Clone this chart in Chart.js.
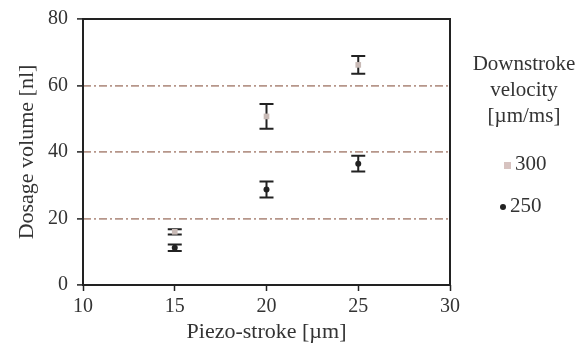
<!DOCTYPE html>
<html>
<head>
<meta charset="utf-8">
<script src="https://cdn.jsdelivr.net/npm/chart.js@4"></script>
<style>
  body { margin: 0; background: #fff; }
  #wrap { position: relative; width: 585px; height: 352px; }
  #chart { display: block; }
  #legend {
    position: absolute; left: 462px; top: 50px; width: 124px;
    font-family: 'Liberation Serif', serif; font-size: 21px; color: #333;
    text-align: center; line-height: 26px;
  }
  #legend .item { position: absolute; white-space: nowrap; }
  #legend .mk { display: inline-block; margin-right: 4px; vertical-align: middle; }
</style>
</head>
<body>
<div id="wrap">
  <canvas id="chart" width="585" height="352"></canvas>
  <div id="legend"></div>
</div>
<script>
const strokes = [15, 20, 25];
const vel300 = [16.0, 50.7, 66.2];
const vel300Err = [0.8, 3.7, 2.7];
const vel250 = [11.2, 28.7, 36.5];
const vel250Err = [1.0, 2.4, 2.4];
const xTicks = [10, 15, 20, 25, 30];
const yTicks = [0, 20, 40, 60, 80];
const legendTitle = ['Downstroke', 'velocity', '[\u00b5m/ms]'];
const seriesNames = ['300', '250'];

const textColor = '#333';
const gridColor = 'rgb(182,150,138)';

const toPoints = (ys, errs) => strokes.map((x, i) => ({ x: x, y: ys[i], err: errs[i] }));

// error bars drawn behind the markers
const errorBars = {
  id: 'errorBars',
  beforeDatasetsDraw(chart) {
    const ctx = chart.ctx;
    const xs = chart.scales.x, ys = chart.scales.y;
    ctx.save();
    ctx.strokeStyle = '#222';
    ctx.lineWidth = 2;
    chart.data.datasets.forEach(ds => {
      ds.data.forEach(p => {
        const px = xs.getPixelForValue(p.x);
        const top = ys.getPixelForValue(p.y + p.err);
        const bot = ys.getPixelForValue(p.y - p.err);
        ctx.beginPath();
        ctx.moveTo(px, top); ctx.lineTo(px, bot);
        ctx.moveTo(px - 7, top); ctx.lineTo(px + 7, top);
        ctx.moveTo(px - 7, bot); ctx.lineTo(px + 7, bot);
        ctx.stroke();
      });
    });
    ctx.restore();
  }
};

const frame = {
  id: 'frame',
  afterDraw(chart) {
    const a = chart.chartArea, ctx = chart.ctx;
    ctx.save();
    ctx.strokeStyle = '#222';
    ctx.lineWidth = 2;
    ctx.strokeRect(a.left, a.top, a.right - a.left, a.bottom - a.top);
    ctx.restore();
  }
};

const serif = 'Liberation Serif';

new Chart(document.getElementById('chart'), {
  type: 'scatter',
  data: {
    datasets: [
      {
        label: seriesNames[0],
        data: toPoints(vel300, vel300Err),
        pointStyle: 'rect',
        pointRadius: 4,
        backgroundColor: 'rgb(200,186,182)',
        borderColor: 'rgb(200,186,182)',
        borderWidth: 0
      },
      {
        label: seriesNames[1],
        data: toPoints(vel250, vel250Err),
        pointStyle: 'circle',
        pointRadius: 3,
        backgroundColor: '#222',
        borderColor: '#222',
        borderWidth: 0
      }
    ]
  },
  options: {
    responsive: false,
    animation: false,
    layout: { padding: { top: 10, right: 135, left: 0, bottom: 0 } },
    plugins: { legend: { display: false }, tooltip: { enabled: false } },
    scales: {
      x: {
        min: 10, max: 30,
        afterBuildTicks: s => { s.ticks = xTicks.map(v => ({ value: v })); },
        afterFit: s => { s.height = 67; },
        grid: { drawOnChartArea: false, tickLength: 6, tickColor: '#222', tickWidth: 1.5 },
        border: { display: false },
        ticks: { color: textColor, padding: 4, font: { family: serif, size: 20 } },
        title: {
          display: true, text: 'Piezo-stroke [\u00b5m]', color: textColor,
          font: { family: serif, size: 22 }, padding: { top: 0, bottom: 7 }
        }
      },
      y: {
        min: 0, max: 80,
        afterBuildTicks: s => { s.ticks = yTicks.map(v => ({ value: v })); },
        afterFit: s => { s.width = 83; },
        grid: {
          color: c => (c.tick && (c.tick.value === 0 || c.tick.value === 80)) ? 'rgba(0,0,0,0)' : gridColor,
          lineWidth: 1.8,
          tickLength: 6, tickColor: '#222', tickWidth: 1.5
        },
        border: { display: false, dash: [8, 3, 2, 3] },
        ticks: { color: textColor, padding: 9, font: { family: serif, size: 20, lineHeight: 1 } },
        title: {
          display: true, text: 'Dosage volume [nl]', color: textColor,
          font: { family: serif, size: 22 }, padding: { top: 14, bottom: 0 }
        }
      }
    }
  },
  plugins: [errorBars, frame]
});

// legend block on the right
const legend = document.getElementById('legend');
legendTitle.forEach(t => {
  const d = document.createElement('div');
  d.textContent = t;
  legend.appendChild(d);
});
const itemTops = [100, 142];
const itemLefts = [42, 38];
seriesNames.forEach((name, i) => {
  const it = document.createElement('div');
  it.className = 'item';
  it.style.top = itemTops[i] + 'px';
  it.style.left = itemLefts[i] + 'px';
  const mk = document.createElement('span');
  mk.className = 'mk';
  if (i === 0) {
    mk.style.width = '7px'; mk.style.height = '7px'; mk.style.background = 'rgb(215,195,192)';
  } else {
    mk.style.width = '6px'; mk.style.height = '6px'; mk.style.borderRadius = '50%'; mk.style.background = '#222';
  }
  it.appendChild(mk);
  it.appendChild(document.createTextNode(name));
  legend.appendChild(it);
});
</script>
</body>
</html>
